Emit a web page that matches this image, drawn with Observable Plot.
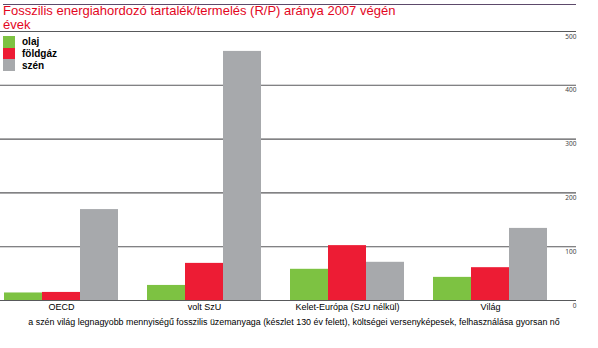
<!DOCTYPE html>
<html><head><meta charset="utf-8">
<script src="https://cdn.jsdelivr.net/npm/d3@7"></script>
<script src="https://cdn.jsdelivr.net/npm/@observablehq/plot@0.6"></script>
<style>
html,body{margin:0;padding:0;background:#fff;}
#wrap{position:relative;width:598px;height:348px;overflow:hidden;font-family:"Liberation Sans",Arial,sans-serif;}
#wrap svg{position:absolute;left:0;top:0;}
#topline{position:absolute;left:3px;top:4px;width:573px;border-top:1.3px solid #5d4a6b;}
.title{position:absolute;left:3px;color:#e3061e;font-size:13px;line-height:13px;white-space:nowrap;}
#legend{position:absolute;left:3px;top:36px;font-size:10px;font-weight:bold;color:#000;}
.li{display:flex;align-items:center;height:11.7px;}
.sw{width:12px;height:11.7px;margin-right:7px;}
#caption{position:absolute;left:0;width:588px;top:317px;text-align:center;font-size:8.9px;color:#000;white-space:nowrap;}
</style></head>
<body><div id="wrap">
<div id="topline"></div>
<div class="title" style="top:4px">Fosszilis energiahordozó tartalék/termelés (R/P) aránya 2007 végén</div>
<div class="title" style="top:18px">évek</div>
</div>
<script>
const regions = ["OECD", "volt SzU", "Kelet-Európa (SzU nélkül)", "Világ"];
const fuels = ["olaj", "földgáz", "szén"];
const olaj = [14, 28, 58, 43];
const foldgaz = [15, 69, 102, 61];
const szen = [169, 463, 71, 134];
const yTicks = [0, 100, 200, 300, 400, 500];
const colors = ["#7dc242", "#ed1c34", "#a7a9ac"];
const caption = "a szén világ legnagyobb mennyiségű fosszilis üzemanyaga (készlet 130 év felett), költségei versenyképesek, felhasználása gyorsan nő";

const series = [olaj, foldgaz, szen];
const data = [];
regions.forEach((r, i) => fuels.forEach((f, j) => data.push({region: r, fuel: f, value: series[j][i]})));

const W = 598, H = 348, mTop = 31, mBottom = 48;
const wrap = document.getElementById("wrap");

// background: gridlines + tick labels
const bg = Plot.plot({
  width: W, height: H, marginTop: mTop, marginBottom: mBottom, marginLeft: 0, marginRight: 22,
  x: {axis: null},
  y: {domain: [0, 500], axis: null},
  style: {background: "transparent", color: "#444"},
  marks: [
    Plot.ruleY(yTicks, {stroke: "#58595b", strokeWidth: 1.1}),
    Plot.text(yTicks, {y: d => d, text: d => String(d), frameAnchor: "right", textAnchor: "end", dy: 5, fontSize: 6.5, fill: "#444"})
  ]
});
wrap.appendChild(bg);

// foreground bars
const fg = Plot.plot({
  width: W, height: H, marginTop: mTop, marginBottom: mBottom, marginLeft: 3, marginRight: 50,
  fx: {domain: regions, paddingInner: 0.189, paddingOuter: 0, axis: "bottom", tickSize: 0, tickPadding: 3, label: null},
  x: {domain: fuels, padding: 0, axis: null},
  y: {domain: [0, 500], axis: null},
  color: {domain: fuels, range: colors},
  style: {background: "transparent", fontSize: "9px", fontFamily: "Liberation Sans, Arial, sans-serif", color: "#000"},
  marks: [
    Plot.barY(data, {fx: "region", x: "fuel", y: "value", fill: "fuel", insetLeft: 0, insetRight: 0})
  ]
});
wrap.appendChild(fg);

// legend
const lg = document.createElement("div");
lg.id = "legend";
fuels.forEach((f, j) => {
  const row = document.createElement("div"); row.className = "li";
  const sw = document.createElement("div"); sw.className = "sw"; sw.style.background = colors[j];
  const t = document.createElement("span"); t.textContent = f;
  row.appendChild(sw); row.appendChild(t); lg.appendChild(row);
});
wrap.appendChild(lg);

const cap = document.createElement("div");
cap.id = "caption"; cap.textContent = caption;
wrap.appendChild(cap);
</script>
</body></html>
